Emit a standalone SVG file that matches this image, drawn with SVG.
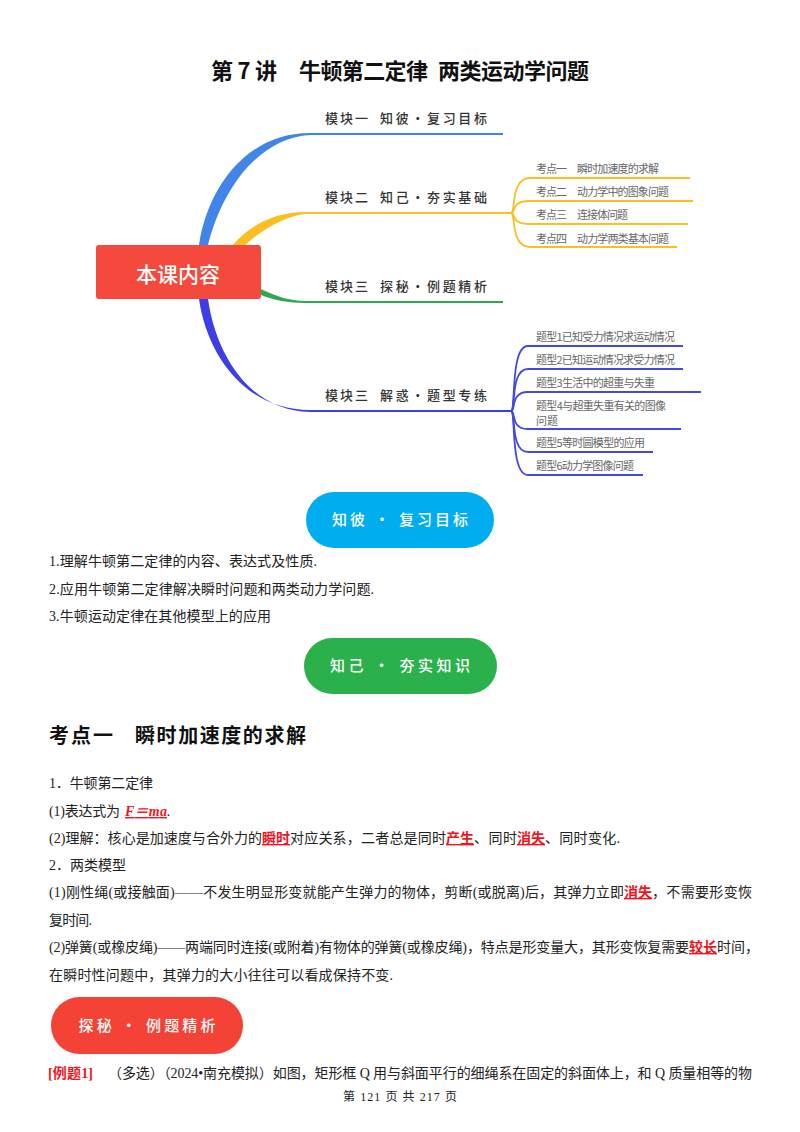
<svg xmlns="http://www.w3.org/2000/svg" width="800" height="1132" viewBox="0 0 800 1132">
<style>
text{font-family:"Liberation Serif","Noto Sans CJK SC",serif}
.b{font-size:14px;fill:#222}
.r{font-size:14px;fill:#f0141e;font-weight:700;text-decoration:underline}
.s{font-family:"Noto Sans CJK SC","Liberation Sans",sans-serif;fill:#111;font-weight:700}
.m{font-family:"Noto Sans CJK SC",sans-serif;font-size:13px;fill:#333;font-weight:500}
.l{font-family:"Noto Sans CJK SC",sans-serif;font-size:11px;fill:#666}
.p{font-family:"Noto Sans CJK SC",sans-serif;font-size:15px;fill:#fff;text-anchor:middle;font-weight:500}
.y{fill:none;stroke:#fbbf24;stroke-width:1.8}
.v{fill:none;stroke:#4348e0;stroke-width:1.8}
</style>
<rect width="800" height="1132" fill="#fff"/>
<g id="title">
<text class="s" x="211" y="79" font-size="22" textLength="66">第 7 讲</text>
<text class="s" x="299" y="79" font-size="22" textLength="129">牛顿第二定律</text>
<text class="s" x="438" y="79" font-size="22" textLength="151">两类运动学问题</text>
</g>

<g id="connectors">
<path d="M199 245C207 190 245 133 310 133L503 133L503 135L310 135C258 138 222 190 208 245Z" fill="#4285e8"/>
<path d="M233 245C250 225 275 212 305 212L511 212L511 214L305 214C285 216 262 230 245 245Z" fill="#fbbf24"/>
<path d="M261 289C275 296 290 301 305 301L503 301L503 303L305 303C290 303 272 300 261 295Z" fill="#2fa84f"/>
<path d="M199 299C207 355 245 410 310 410L511 410L511 412L310 412C250 411 216 355 208 299Z" fill="#3d3fe6"/>
<path class="y" d="M511 213C516 213 510 178 530 178L690 178"/>
<path class="y" d="M511 213C516 213 510 201 530 201L693 201"/>
<path class="y" d="M511 213C516 213 510 224 530 224L688 224"/>
<path class="y" d="M511 213C516 213 510 247 530 247L677 247"/>
<path class="v" d="M511 411C516 411 510 346 528 346L683 346"/>
<path class="v" d="M511 411C516 411 510 369 528 369L683 369"/>
<path class="v" d="M511 411C516 411 510 392 528 392L701 392"/>
<path class="v" d="M511 411C516 411 510 429 528 429L681 429"/>
<path class="v" d="M511 411C516 411 510 452 528 452L653 452"/>
<path class="v" d="M511 411C516 411 510 475 528 475L643 475"/>
</g>

<g id="root"><rect x="96" y="245" width="165" height="54" rx="3" fill="#f4493c"/>
<text x="136" y="282" font-size="21" font-weight="500" fill="#fff" style="font-family:'Noto Sans CJK SC',sans-serif" textLength="84">本课内容</text></g>
<g id="m1"><text class="m" x="325" y="123" textLength="43">模块一</text><text class="m" x="380" y="123" textLength="107">知彼·复习目标</text></g>
<g id="m2"><text class="m" x="325" y="202" textLength="43">模块二</text><text class="m" x="380" y="202" textLength="107">知己·夯实基础</text></g>
<g id="m3"><text class="m" x="325" y="291" textLength="43">模块三</text><text class="m" x="380" y="291" textLength="107">探秘·例题精析</text></g>
<g id="m4"><text class="m" x="325" y="400" textLength="43">模块三</text><text class="m" x="380" y="400" textLength="107">解惑·题型专练</text></g>
<g id="k1"><text class="l" x="536" y="173" textLength="31">考点一</text><text class="l" x="577" y="173" textLength="82">瞬时加速度的求解</text></g>
<g id="k2"><text class="l" x="536" y="196" textLength="31">考点二</text><text class="l" x="577" y="196" textLength="92">动力学中的图象问题</text></g>
<g id="k3"><text class="l" x="536" y="219" textLength="31">考点三</text><text class="l" x="577" y="219" textLength="51">连接体问题</text></g>
<g id="k4"><text class="l" x="536" y="243" textLength="31">考点四</text><text class="l" x="577" y="243" textLength="92">动力学两类基本问题</text></g>
<g id="t1"><text class="l" x="536" y="341" textLength="139">题型1已知受力情况求运动情况</text></g>
<g id="t2"><text class="l" x="536" y="364" textLength="139">题型2已知运动情况求受力情况</text></g>
<g id="t3"><text class="l" x="536" y="387" textLength="119">题型3生活中的超重与失重</text></g>
<g id="t4"><text class="l" x="536" y="410" textLength="130">题型4与超重失重有关的图像</text><text class="l" x="536" y="425" textLength="22">问题</text></g>
<g id="t5"><text class="l" x="536" y="447" textLength="109">题型5等时圆模型的应用</text></g>
<g id="t6"><text class="l" x="536" y="470" textLength="98">题型6动力学图像问题</text></g>

<g id="pill1"><rect x="306" y="492" width="188" height="56" rx="28" fill="#00aeef"/><text class="p" x="400" y="525" textLength="136">知彼 · 复习目标</text></g>
<text class="b" x="49" y="566" textLength="268">1.理解牛顿第二定律的内容、表达式及性质.</text>
<text class="b" x="49" y="594" textLength="325">2.应用牛顿第二定律解决瞬时问题和两类动力学问题.</text>
<text class="b" x="49" y="621" textLength="222">3.牛顿运动定律在其他模型上的应用</text>
<g id="pill2"><rect x="304" y="638" width="193" height="56" rx="28" fill="#2bb14b"/><text class="p" x="400" y="671" textLength="140">知己 · 夯实知识</text></g>

<g id="heading"><text class="s" x="49" y="743" font-size="20" textLength="64">考点一</text><text class="s" x="135" y="743" font-size="20" textLength="171">瞬时加速度的求解</text></g>

<text class="b" x="49" y="788" textLength="104">1．牛顿第二定律</text>
<text class="b" x="49" y="816" textLength="71">(1)表达式为</text>
<text class="r" x="125" y="816" font-style="italic" textLength="42">F＝ma</text>
<text class="b" x="167" y="816" font-style="italic">.</text>
<text class="b" x="49" y="843" textLength="213">(2)理解：核心是加速度与合外力的</text>
<text class="r" x="262" y="843" textLength="28">瞬时</text>
<text class="b" x="290" y="843" textLength="156">对应关系，二者总是同时</text>
<text class="r" x="446" y="843" textLength="28">产生</text>
<text class="b" x="474" y="843" textLength="43">、同时</text>
<text class="r" x="517" y="843" textLength="28">消失</text>
<text class="b" x="545" y="843" textLength="75">、同时变化.</text>
<text class="b" x="49" y="870" textLength="77">2．两类模型</text>
<text class="b" x="49" y="897" textLength="575">(1)刚性绳(或接触面)——不发生明显形变就能产生弹力的物体，剪断(或脱离)后，其弹力立即</text>
<text class="r" x="624" y="897" textLength="28">消失</text>
<text class="b" x="652" y="897" textLength="100">，不需要形变恢</text>
<text class="b" x="49" y="925" textLength="43">复时间.</text>
<text class="b" x="49" y="952" textLength="640">(2)弹簧(或橡皮绳)——两端同时连接(或附着)有物体的弹簧(或橡皮绳)，特点是形变量大，其形变恢复需要</text>
<text class="r" x="689" y="952" textLength="28">较长</text>
<text class="b" x="717" y="952" textLength="28">时间</text>
<text class="b" x="745" y="952">，</text>
<text class="b" x="49" y="980" textLength="344">在瞬时性问题中，其弹力的大小往往可以看成保持不变.</text>

<g id="pill3"><rect x="51" y="997" width="192" height="57" rx="28.500" fill="#f44336"/><text class="p" x="147" y="1031" textLength="137">探秘 · 例题精析</text></g>
<text x="48" y="1078" font-size="14" font-weight="700" fill="#f0141e" textLength="45">[例题1]</text>
<text class="b" x="108" y="1078" textLength="644">（多选）（2024•南充模拟）如图，矩形框 Q 用与斜面平行的细绳系在固定的斜面体上，和 Q 质量相等的物</text>
<text x="343" y="1101" font-size="12" fill="#222" textLength="114">第 121 页 共 217 页</text>
</svg>
